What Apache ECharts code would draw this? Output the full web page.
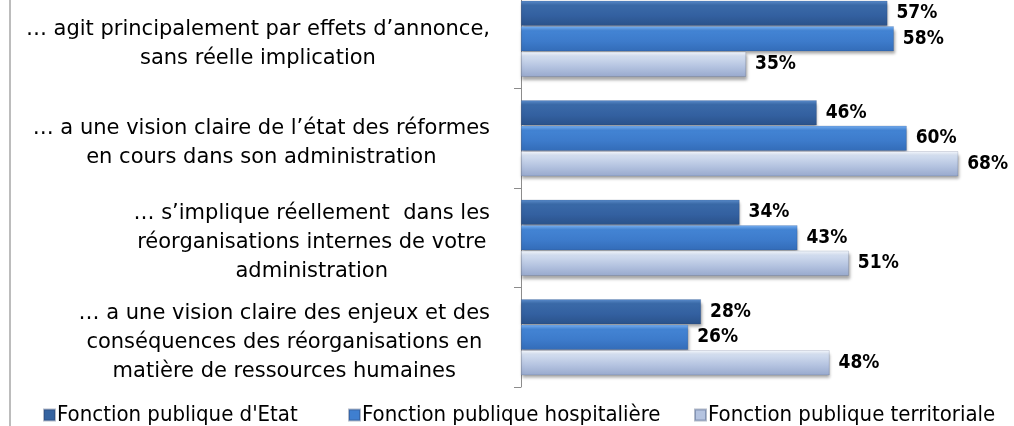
<!DOCTYPE html>
<html>
<head>
<meta charset="utf-8">
<title>Perception</title>
<script src="https://cdn.jsdelivr.net/npm/echarts@6/dist/echarts.min.js"></script>
<style>
	html, body { margin: 0; padding: 0; background: #fff; }
	#chart { width: 1014px; height: 426px; }
</style>
</head>
<body>
<div id="chart"></div>
<script>
	//数据
	var categories = [
		'… agit principalement par effets d’annonce,\nsans réelle implication',
		'… a une vision claire de l’état des réformes\nen cours dans son administration',
		'… s’implique réellement  dans les\nréorganisations internes de votre\nadministration',
		'… a une vision claire des enjeux et des\nconséquences des réorganisations en\nmatière de ressources humaines'
	];
	var seriesNames = ['Fonction publique d\'Etat', 'Fonction publique hospitalière', 'Fonction publique territoriale'];
	var etatValues = [57, 46, 34, 28];
	var hospValues = [58, 60, 43, 26];
	var terrValues = [35, 68, 51, 48];

	var textFont = '"DejaVu Sans", sans-serif';
	var narrowFont = '"DejaVu Sans Condensed", "DejaVu Sans", sans-serif';

	//渐变色 (顶部高光)
	function grad(c1, c2, c3, c4) {
		return new echarts.graphic.LinearGradient(0, 0, 0, 1, [
			{ offset: 0, color: c1 },
			{ offset: 0.18, color: c2 },
			{ offset: 0.6, color: c3 },
			{ offset: 1, color: c4 }
		]);
	}
	var fills = [
		grad('#5a8ccc', '#3a6aa8', '#3360a0', '#2a528a'),
		grad('#78b0f2', '#4384d4', '#3d7bcb', '#336cb8'),
		grad('#f4f7fc', '#d2ddef', '#b4c3e0', '#98a9cd')
	];
	var legendColors = ['#3563a0', '#3f7fd0', '#b4c3e0'];

	function makeSeries(idx, data) {
		return {
			name: seriesNames[idx],
			type: 'bar',
			data: data,
			barWidth: 25,
			barGap: '2%',
			itemStyle: {
				color: fills[idx],
				borderColor: 'rgba(40,60,100,0.35)',
				borderWidth: 0.5,
				shadowColor: 'rgba(0,0,0,0.35)',
				shadowBlur: 3,
				shadowOffsetY: 3,
				shadowOffsetX: 1
			},
			label: {
				show: true,
				position: 'right',
				distance: 9,
				formatter: '{c}%',
				color: '#000',
				fontFamily: narrowFont,
				fontWeight: 'bold',
				fontSize: 19
			}
		};
	}

	function makeLegend(idx, left) {
		return {
			left: left,
			top: 399,
			itemWidth: 11,
			itemHeight: 11,
			itemGap: 10,
			icon: 'rect',
			data: [{ name: seriesNames[idx], itemStyle: { color: legendColors[idx] } }],
			textStyle: {
				color: '#000',
				fontFamily: narrowFont,
				fontSize: 22,
				padding: [0, 0, 0, -3]
			}
		};
	}

	var option = {
		animation: false,
		legend: [makeLegend(0, 38), makeLegend(1, 343), makeLegend(2, 689)],
		grid: {
			left: 521,
			right: 43,
			top: -11,
			bottom: 39,
			outerBoundsMode: 'none'
		},
		xAxis: {
			type: 'value',
			min: 0,
			max: 70,
			show: false
		},
		yAxis: {
			type: 'category',
			inverse: true,
			data: categories,
			axisLine: {
				show: true,
				lineStyle: { color: '#8c8c8c', width: 1 }
			},
			axisTick: {
				show: true,
				length: 7,
				lineStyle: { color: '#8c8c8c' }
			},
			axisLabel: {
				margin: 31,
				padding: [10, 0, 0, 0],
				formatter: function(v) {
					return v.split('\n').map(function(l) {
						return '{c|' + l + '}';
					}).join('\n');
				},
				rich: {
					c: {
						align: 'center',
						fontFamily: textFont,
						fontSize: 21,
						lineHeight: 29,
						color: '#000'
					}
				}
			}
		},
		graphic: [{
			type: 'line',
			shape: { x1: 10, y1: 0, x2: 10, y2: 426 },
			style: { stroke: '#a6a6a6', lineWidth: 1.5 }
		}],
		series: [
			makeSeries(0, etatValues),
			makeSeries(1, hospValues),
			makeSeries(2, terrValues)
		]
	};

	var myChart = echarts.init(document.getElementById('chart'));
	myChart.setOption(option);
</script>
</body>
</html>
